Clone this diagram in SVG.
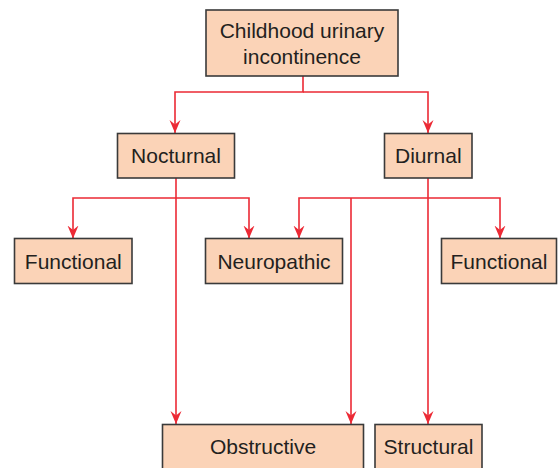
<svg xmlns="http://www.w3.org/2000/svg" width="558" height="468" viewBox="0 0 558 468">
  <style>
    .box { fill: #fbd3b7; stroke: #3a3a3a; stroke-width: 1.6; }
    .lbl { font-family: "Liberation Sans", Arial, sans-serif; font-size: 21px; fill: #231f20; text-anchor: middle; }
    .link { fill: none; stroke: #ec2a35; stroke-width: 1.6; }
  </style>
  <defs>
    <marker id="arrow" markerUnits="userSpaceOnUse" markerWidth="14" markerHeight="12" refX="13" refY="6" orient="auto">
      <path d="M0,0.5 L13,6 L0,11.5 L4.5,6 Z" fill="#ec2a35"/>
    </marker>
  </defs>

  <rect width="558" height="468" fill="#ffffff"/>

  <!-- connectors -->
  <g id="connectors">
    <path class="link" d="M303,76 V92 H175 V133" marker-end="url(#arrow)"/>
    <path class="link" d="M303,92 H428 V133" marker-end="url(#arrow)"/>

    <path class="link" d="M176,178 V424" marker-end="url(#arrow)"/>
    <path class="link" d="M176,198 H73 V238.5" marker-end="url(#arrow)"/>
    <path class="link" d="M176,198 H249 V238.5" marker-end="url(#arrow)"/>

    <path class="link" d="M428,178 V424" marker-end="url(#arrow)"/>
    <path class="link" d="M428,198 H299 V238.5" marker-end="url(#arrow)"/>
    <path class="link" d="M428,198 H500 V238.5" marker-end="url(#arrow)"/>
    <path class="link" d="M351,198 V424" marker-end="url(#arrow)"/>
  </g>

  <g id="root">
    <rect class="box" x="206" y="10" width="192" height="66"/>
    <text class="lbl" x="302" y="37.5">Childhood urinary</text>
    <text class="lbl" x="302" y="64">incontinence</text>
  </g>

  <g id="nocturnal">
    <rect class="box" x="117.5" y="133.5" width="117" height="44.5"/>
    <text class="lbl" x="176" y="163">Nocturnal</text>
  </g>

  <g id="diurnal">
    <rect class="box" x="384.5" y="133.5" width="87.5" height="44.5"/>
    <text class="lbl" x="428.3" y="163">Diurnal</text>
  </g>

  <g id="functional-left">
    <rect class="box" x="14.5" y="238.5" width="117.5" height="45"/>
    <text class="lbl" x="73.3" y="268.5">Functional</text>
  </g>

  <g id="neuropathic">
    <rect class="box" x="205.5" y="238.5" width="137" height="45"/>
    <text class="lbl" x="274" y="268.5">Neuropathic</text>
  </g>

  <g id="functional-right">
    <rect class="box" x="441.5" y="238.5" width="115" height="45"/>
    <text class="lbl" x="499" y="268.5">Functional</text>
  </g>

  <g id="obstructive">
    <rect class="box" x="162.5" y="424.5" width="201" height="50"/>
    <text class="lbl" x="263" y="454">Obstructive</text>
  </g>

  <g id="structural">
    <rect class="box" x="375" y="424.5" width="107" height="50"/>
    <text class="lbl" x="428.5" y="454">Structural</text>
  </g>
</svg>
